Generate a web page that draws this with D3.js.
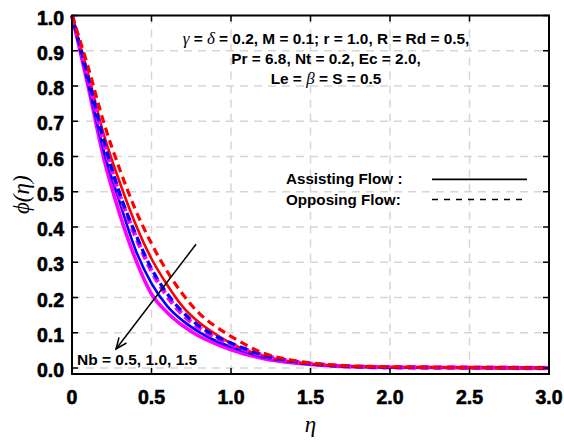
<!DOCTYPE html>
<html>
<head>
<meta charset="utf-8">
<script src="https://cdn.jsdelivr.net/npm/d3@7"></script>
<style>
  body { margin: 0; background: #fff; }
  svg { display: block; }
  text { font-family: "Liberation Sans", Arial, sans-serif; font-weight: bold; fill: #000; }
  .math { font-family: "Liberation Serif", "DejaVu Serif", serif; font-style: italic; font-weight: normal; }
</style>
</head>
<body>
<svg id="chart" width="564" height="443"></svg>
<script>
const eta = [0, 0.1, 0.2, 0.3, 0.4, 0.5, 0.6, 0.7, 0.8, 0.9, 1.0, 1.2, 1.4, 1.6, 2.0, 2.5, 3.0];

// assisting flow (solid)
const assistNb05 = [1, 0.836, 0.662, 0.527, 0.408, 0.310, 0.235, 0.172, 0.129, 0.097, 0.070, 0.035, 0.017, 0.008, 0.002, 0.001, 0];
const assistNb10 = [1, 0.810, 0.615, 0.470, 0.335, 0.240, 0.175, 0.133, 0.102, 0.078, 0.060, 0.031, 0.016, 0.008, 0.002, 0.001, 0];
const assistNb15 = [1, 0.802, 0.595, 0.437, 0.308, 0.210, 0.157, 0.119, 0.090, 0.069, 0.052, 0.027, 0.014, 0.007, 0.002, 0.001, 0];

// opposing flow (dashed)
const opposeNb05 = [1, 0.856, 0.696, 0.564, 0.448, 0.353, 0.273, 0.207, 0.155, 0.119, 0.090, 0.043, 0.021, 0.010, 0.003, 0.001, 0];
const opposeNb10 = [1, 0.828, 0.645, 0.495, 0.380, 0.282, 0.210, 0.157, 0.119, 0.091, 0.071, 0.037, 0.018, 0.008, 0.002, 0.001, 0];
const opposeNb15 = [1, 0.825, 0.640, 0.489, 0.374, 0.276, 0.203, 0.150, 0.114, 0.087, 0.068, 0.036, 0.018, 0.008, 0.002, 0.001, 0];

const xTicks = [0, 0.5, 1.0, 1.5, 2.0, 2.5, 3.0];
const yTicks = [0, 0.1, 0.2, 0.3, 0.4, 0.5, 0.6, 0.7, 0.8, 0.9, 1.0];

const infoLines = [
  ["γ", " = ", "δ", " = 0.2, M = 0.1; r = 1.0, R = Rd = 0.5,"],
  ["Pr = 6.8, Nt = 0.2, Ec = 2.0,"],
  ["Le = ", "β", " = S = 0.5"]
];

const series = [
  { vals: assistNb15, color: "#ff00ff", width: 3.6, dash: null },
  { vals: assistNb10, color: "#0000ff", width: 2.6, dash: null },
  { vals: assistNb05, color: "#ff0000", width: 2.6, dash: null },
  { vals: opposeNb15, color: "#ff00ff", width: 4.5, dash: "8,5" },
  { vals: opposeNb10, color: "#0000ff", width: 3.3, dash: "8,5", offset: 3 },
  { vals: opposeNb05, color: "#ff0000", width: 3.2, dash: "8,5" }
];

const svg = d3.select("#chart");
const pLeft = 72, pRight = 549, pTop = 15.5, pBottom = 374;

const x = d3.scaleLinear().domain([0, 3]).range([pLeft, pRight]);
const y = d3.scaleLinear().domain([-0.017, 1]).range([pBottom, pTop]);

// grid
const grid = svg.append("g").attr("stroke", "#d6d6d6").attr("stroke-width", 1.5).attr("stroke-dasharray", "8,6");
grid.selectAll("line.v").data(xTicks.slice(1, -1)).join("line")
  .attr("x1", d => x(d)).attr("x2", d => x(d)).attr("y1", pTop).attr("y2", pBottom);
grid.selectAll("line.h").data(yTicks.slice(0, -1)).join("line")
  .attr("x1", pLeft).attr("x2", pRight).attr("y1", d => y(d)).attr("y2", d => y(d));

// curves
const line = d3.line().x((d, i) => x(eta[i])).y(d => y(d)).curve(d3.curveMonotoneX);
svg.append("g").selectAll("path").data(series).join("path")
  .attr("d", d => line(d.vals))
  .attr("fill", "none")
  .attr("stroke", d => d.color)
  .attr("stroke-width", d => d.width)
  .attr("stroke-dasharray", d => d.dash)
  .attr("stroke-dashoffset", d => d.offset || 0);

// frame
svg.append("rect").attr("x", pLeft).attr("y", pTop).attr("width", pRight - pLeft).attr("height", pBottom - pTop)
  .attr("fill", "none").attr("stroke", "#000").attr("stroke-width", 2);

// inward ticks on all sides
const tk = svg.append("g").attr("stroke", "#000").attr("stroke-width", 1.5);
tk.selectAll("line.xb").data(xTicks).join("line")
  .attr("x1", d => x(d)).attr("x2", d => x(d)).attr("y1", pBottom).attr("y2", pBottom - 6);
tk.selectAll("line.xt").data(xTicks).join("line")
  .attr("x1", d => x(d)).attr("x2", d => x(d)).attr("y1", pTop).attr("y2", pTop + 6);
tk.selectAll("line.yl").data(yTicks).join("line")
  .attr("x1", pLeft).attr("x2", pLeft + 6).attr("y1", d => y(d)).attr("y2", d => y(d));
tk.selectAll("line.yr").data(yTicks).join("line")
  .attr("x1", pRight).attr("x2", pRight - 6).attr("y1", d => y(d)).attr("y2", d => y(d));

// tick labels
svg.append("g").attr("stroke", "#000").attr("stroke-width", 0.6)
  .selectAll("text").data(xTicks).join("text")
  .attr("x", d => x(d)).attr("y", 404).attr("text-anchor", "middle").attr("font-size", 19.5)
  .text(d => d === 0 ? "0" : d.toFixed(1));
svg.append("g").attr("stroke", "#000").attr("stroke-width", 0.6)
  .selectAll("text").data(yTicks).join("text")
  .attr("x", 64).attr("y", d => y(d) + 9).attr("text-anchor", "end").attr("font-size", 19.5)
  .text(d => d.toFixed(1));

// axis titles
svg.append("text").attr("class", "math").attr("x", x(1.5)).attr("y", 432)
  .attr("text-anchor", "middle").attr("font-size", 23).text("η");
svg.append("text").attr("class", "math")
  .attr("transform", `translate(29,${(pTop + pBottom) / 2}) rotate(-90)`)
  .attr("text-anchor", "middle").attr("font-size", 23)
  .text("ϕ(η)");

// parameter block
const info = svg.append("text").attr("font-size", 15.4).attr("text-anchor", "middle");
infoLines.forEach((parts, i) => {
  parts.forEach((p, j) => {
    const t = info.append("tspan").text(p);
    if (j === 0) t.attr("x", 326).attr("y", 44 + i * 20);
    if (/^[γδβ]$/.test(p)) t.attr("class", "math").attr("font-size", 17);
  });
});

// legend
const legendRows = [
  { label: "Assisting Flow :", dash: null, yv: 0.535 },
  { label: "Opposing Flow:", dash: "6,6", yv: 0.478 }
];
const lg = svg.append("g");
lg.selectAll("text").data(legendRows).join("text")
  .attr("x", 286).attr("y", d => y(d.yv) + 5).attr("font-size", 15.2).text(d => d.label);
lg.selectAll("line").data(legendRows).join("line")
  .attr("x1", 432).attr("x2", 527).attr("y1", d => y(d.yv)).attr("y2", d => y(d.yv))
  .attr("stroke", "#000").attr("stroke-width", 1.6).attr("stroke-dasharray", d => d.dash);

// Nb arrow
const arrowFrom = [0.78, 0.351], arrowTo = [0.277, 0.054];
const ax1 = x(arrowFrom[0]), ay1 = y(arrowFrom[1]), ax2 = x(arrowTo[0]), ay2 = y(arrowTo[1]);
const ang = Math.atan2(ay2 - ay1, ax2 - ax1);
const head = 12, spread = 0.4;
const arrow = svg.append("g").attr("stroke", "#000").attr("stroke-width", 1.5).attr("fill", "none");
arrow.append("line").attr("x1", ax1).attr("y1", ay1).attr("x2", ax2).attr("y2", ay2);
arrow.append("path").attr("d", d3.line()([
  [ax2 - head * Math.cos(ang - spread), ay2 - head * Math.sin(ang - spread)],
  [ax2, ay2],
  [ax2 - head * Math.cos(ang + spread), ay2 - head * Math.sin(ang + spread)]
]));
svg.append("text").attr("x", 77).attr("y", 365).attr("font-size", 15.5).text("Nb = 0.5, 1.0, 1.5");
</script>
</body>
</html>
